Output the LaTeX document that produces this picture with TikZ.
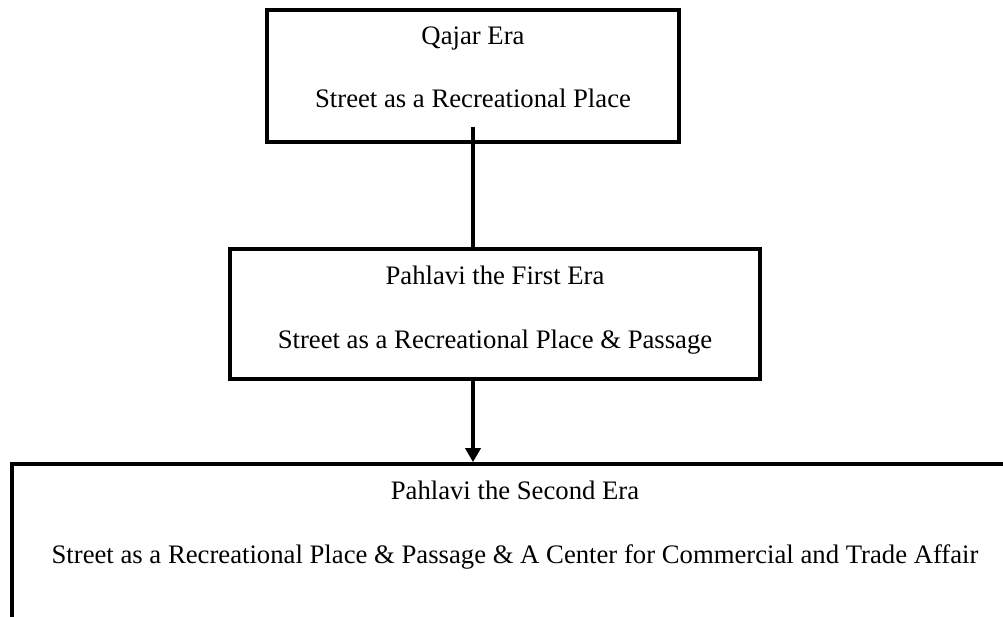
\documentclass[tikz,border=0pt]{standalone}
\usepackage{fontspec}
\setmainfont{Liberation Serif}
\usetikzlibrary{arrows.meta}

\begin{document}
\begin{tikzpicture}[x=1pt,y=-1pt]
\tikzstyle{era}=[rectangle,draw,line width=3.7pt,inner sep=0pt]
\tikzstyle{txt}=[anchor=base,inner sep=0pt,font=\fontsize{26.7}{32}\selectfont]
\clip (0,0) rectangle (1003,617);

\node[era,minimum width=412pt,minimum height=132pt] (qajar) at (473,76) {};
\node[txt] (qajarA) at (473,45) {Qajar Era};
\node[txt] (qajarB) at (473,108) {Street as a Recreational Place};

\node[era,minimum width=530pt,minimum height=130pt] (first) at (495,314) {};
\node[txt] (firstA) at (495,285) {Pahlavi the First Era};
\node[txt] (firstB) at (495,348) {Street as a Recreational Place \& Passage};

\node[era,minimum width=1006pt,minimum height=186pt] (second) at (515,557) {};
\node[txt] (secondA) at (515,499) {Pahlavi the Second Era};
\node[txt] (secondB) at (515,563) {Street as a Recreational Place \& Passage \& A Center for Commercial and Trade Affair};

\tikzstyle{suite}=[line width=3.7pt]
\draw[suite] ([yshift=17pt]qajar.south) -- (qajar.south |- first.north);
\draw[suite,-{Triangle[width=15pt,length=14pt]}] (qajar.south |- first.south) -- (qajar.south |- second.north);

\end{tikzpicture}
\end{document}
